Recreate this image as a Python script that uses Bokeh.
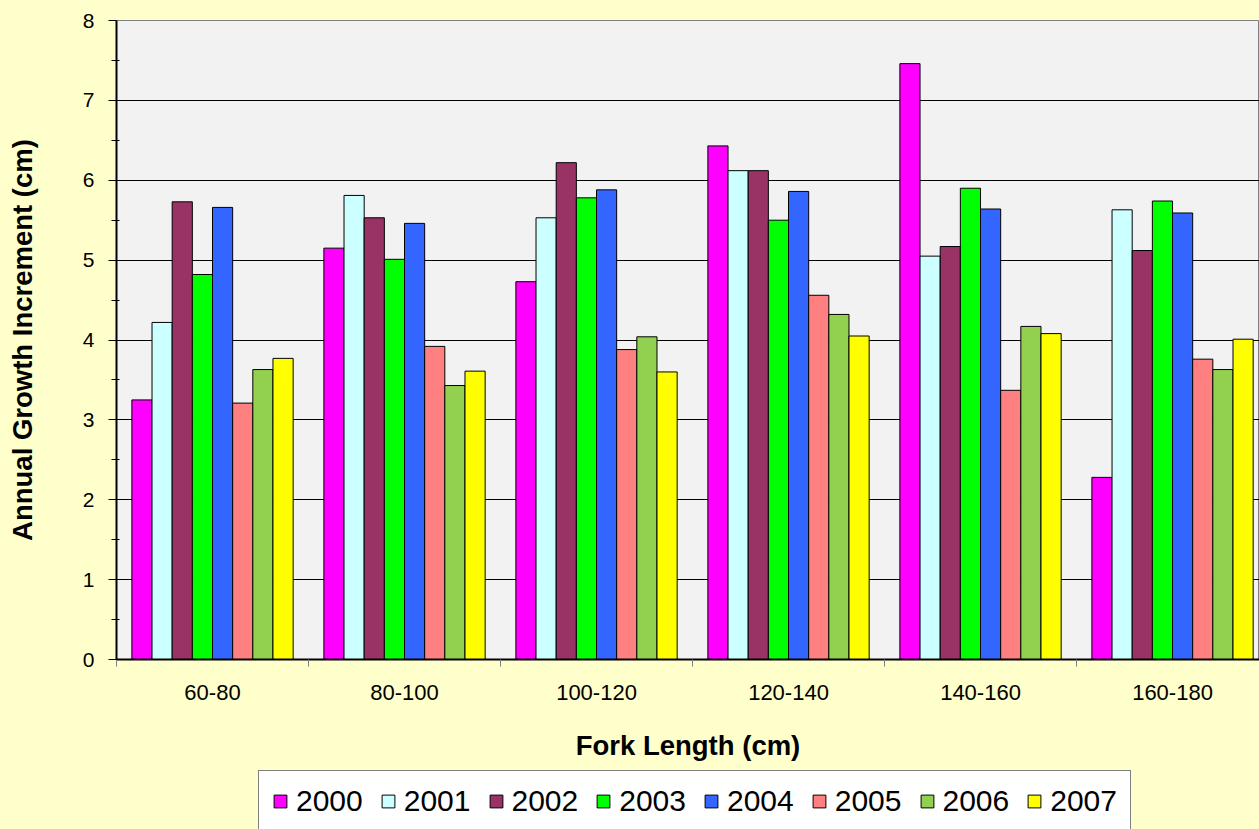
from bokeh.plotting import figure
from bokeh.models import Range1d, FixedTicker, Legend, LegendItem
from bokeh.layouts import column
from bokeh.embed import file_html
from bokeh.resources import INLINE

categories = ["60-80", "80-100", "100-120", "120-140", "140-160", "160-180"]
years = ["2000", "2001", "2002", "2003", "2004", "2005", "2006", "2007"]
colors = ["#FF00FF", "#CCFFFF", "#993366", "#00FF00", "#3366FF", "#FF8080", "#92D050", "#FFFF00"]

v2000 = [3.25, 5.15, 4.73, 6.43, 7.46, 2.28]
v2001 = [4.22, 5.81, 5.53, 6.12, 5.05, 5.63]
v2002 = [5.73, 5.53, 6.22, 6.12, 5.17, 5.12]
v2003 = [4.82, 5.01, 5.78, 5.50, 5.90, 5.74]
v2004 = [5.66, 5.46, 5.88, 5.86, 5.64, 5.59]
v2005 = [3.21, 3.92, 3.88, 4.56, 3.37, 3.76]
v2006 = [3.63, 3.43, 4.04, 4.32, 4.17, 3.63]
v2007 = [3.77, 3.61, 3.60, 4.05, 4.08, 4.01]
series = [v2000, v2001, v2002, v2003, v2004, v2005, v2006, v2007]

FONT = "Liberation Sans"
BG = "#FFFFCC"

p = figure(width=1259, height=770, output_backend="svg", toolbar_location=None,
           x_range=Range1d(0, 5.953), y_range=Range1d(0, 8),
           min_border_left=116, min_border_right=0, min_border_top=20, min_border_bottom=111)
p.background_fill_color = "#F2F2F2"
p.border_fill_color = BG
p.outline_line_color = "#808080"
p.outline_line_width = 1

bw = 0.105
for j, (yr, col, vals) in enumerate(zip(years, colors, series)):
    xs = [i + 0.5 + (j - 3.5) * bw for i in range(len(categories))]
    p.vbar(x=xs, top=vals, width=bw, bottom=0, fill_color=col,
           line_color="black", line_width=1)

# y axis
p.yaxis.ticker = FixedTicker(ticks=list(range(9)), minor_ticks=[k + 0.5 for k in range(8)])
p.yaxis.axis_line_width = 2
p.yaxis.axis_line_color = "black"
p.yaxis.major_tick_out = 8
p.yaxis.major_tick_in = 0
p.yaxis.minor_tick_out = 5
p.yaxis.minor_tick_in = 3
p.yaxis.major_tick_line_color = "black"
p.yaxis.minor_tick_line_color = "black"
p.yaxis.major_label_standoff = 14
p.yaxis.major_label_text_font = FONT
p.yaxis.major_label_text_font_size = "21px"
p.yaxis.major_label_text_color = "black"
p.yaxis.axis_label = "Annual Growth Increment (cm)"
p.yaxis.axis_label_text_font = FONT
p.yaxis.axis_label_text_font_size = "27.5px"
p.yaxis.axis_label_text_font_style = "bold"
p.yaxis.axis_label_text_color = "black"
p.yaxis.axis_label_standoff = 42

p.ygrid.ticker = FixedTicker(ticks=list(range(1, 8)))
p.ygrid.grid_line_color = "black"
p.ygrid.grid_line_width = 1
p.xgrid.grid_line_color = None

# x axis
p.xaxis.ticker = FixedTicker(ticks=[i + 0.5 for i in range(len(categories))],
                             minor_ticks=list(range(len(categories) + 1)))
p.xaxis.major_label_overrides = {i + 0.5: c for i, c in enumerate(categories)}
p.xaxis.axis_line_width = 2
p.xaxis.axis_line_color = "black"
p.xaxis.major_tick_out = 0
p.xaxis.major_tick_in = 0
p.xaxis.minor_tick_out = 7
p.xaxis.minor_tick_in = 0
p.xaxis.minor_tick_line_color = "#808080"
p.xaxis.major_label_standoff = 18
p.xaxis.major_label_text_font = FONT
p.xaxis.major_label_text_font_size = "22px"
p.xaxis.major_label_text_color = "black"
p.xaxis.axis_label = "Fork Length (cm)"
p.xaxis.axis_label_text_font = FONT
p.xaxis.axis_label_text_font_size = "27.5px"
p.xaxis.axis_label_text_font_style = "bold"
p.xaxis.axis_label_text_color = "black"
p.xaxis.axis_label_standoff = 27

# legend in a strip below the chart
q = figure(width=1259, height=59, output_backend="svg", toolbar_location=None,
           x_range=Range1d(0, 1), y_range=Range1d(0, 1),
           x_axis_type=None, y_axis_type=None,
           min_border_left=116, min_border_right=0, min_border_top=0, min_border_bottom=0)
q.background_fill_color = BG
q.border_fill_color = BG
q.outline_line_color = None
q.grid.grid_line_color = None
items = []
for yr, col in zip(years, colors):
    r = q.vbar(x=[5], top=[5], bottom=4, width=0.1, fill_color=col, line_color="black", line_width=1)
    items.append(LegendItem(label=yr, renderers=[r]))

legend = Legend(items=items, orientation="horizontal", location=(142, -3))
legend.label_text_font = FONT
legend.label_text_font_size = "30px"
legend.label_text_color = "black"
legend.glyph_width = 16
legend.glyph_height = 16
legend.label_standoff = 8
legend.spacing = 17
legend.padding = 13
legend.margin = 0
legend.border_line_color = "black"
legend.border_line_width = 1
legend.background_fill_color = "white"
legend.background_fill_alpha = 1
q.add_layout(legend, "center")

layout = column(p, q, spacing=0)
html = file_html(layout, INLINE)
html = html.replace("</head>", "<style>html, body { background-color: #FFFFCC; }</style></head>", 1)
open("out.html", "w").write(html)
